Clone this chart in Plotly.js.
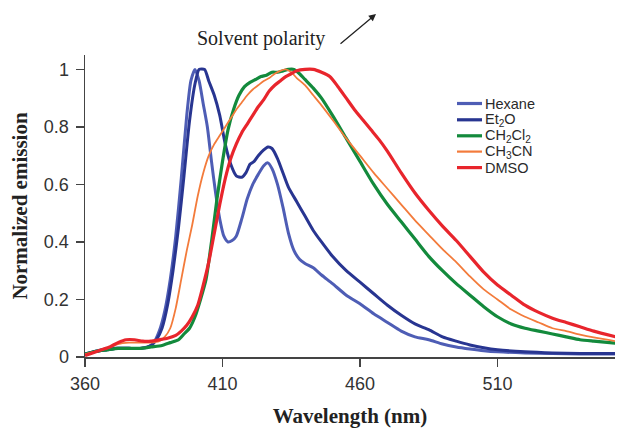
<!DOCTYPE html>
<html>
<head>
<meta charset="utf-8">
<script src="https://cdn.plot.ly/plotly-3.0.1.min.js"></script>
<style>html,body{margin:0;padding:0;background:#fff;}#chart{width:617px;height:428px;}</style>
</head>
<body>
<div id="chart"></div>
<script>
// ---- Data ----
const seriesNames = ["Hexane", "Et<sub>2</sub>O", "CH<sub>2</sub>Cl<sub>2</sub>", "CH<sub>3</sub>CN", "DMSO"];

const hexaneX = [360,364,368,372,376,380,383,385,387,389,391,393,395,397,398.5,400,401.5,403,404.5,406,407.5,409,410.5,412,413.5,415,417,419,421,423,425,426.5,428,430,432,434,436,438,440,443,446,450,455,460,465,470,475,480,485,490,495,500,505,510,520,530,540,553];
const hexaneY = [0.01,0.02,0.03,0.03,0.03,0.03,0.035,0.05,0.09,0.16,0.27,0.42,0.62,0.84,0.96,1.0,0.96,0.88,0.80,0.68,0.57,0.48,0.42,0.40,0.405,0.42,0.48,0.55,0.60,0.635,0.665,0.675,0.655,0.60,0.52,0.43,0.37,0.34,0.325,0.31,0.285,0.255,0.215,0.185,0.15,0.12,0.09,0.07,0.06,0.045,0.035,0.028,0.022,0.018,0.014,0.012,0.01,0.01];

const et2oX = [360,364,368,372,376,380,384,386,388,390,392,394,396,398,400,401.5,403.5,405,407,409,411,413,415,417,418.5,420,421.5,423,425,426.5,428,430,432,434,437,440,443,446,450,455,460,465,470,475,480,485,490,495,500,505,510,520,530,540,553];
const et2oY = [0.01,0.02,0.025,0.03,0.03,0.03,0.04,0.06,0.10,0.18,0.30,0.45,0.63,0.82,0.95,1.0,1.0,0.96,0.91,0.84,0.74,0.67,0.63,0.625,0.64,0.67,0.68,0.70,0.72,0.73,0.725,0.69,0.64,0.59,0.54,0.49,0.44,0.40,0.35,0.30,0.26,0.22,0.18,0.145,0.115,0.095,0.07,0.055,0.042,0.032,0.025,0.018,0.014,0.012,0.012];

const ch2cl2X = [360,364,368,372,376,380,384,388,391,394,396,398,400,402,404,406,408,410,412,414,416,418,420,422,424,426,428,430,432,434,436,438,440,443,446,450,455,460,465,470,475,480,485,490,495,500,505,510,515,520,525,530,535,540,545,553];
const ch2cl2Y = [0.01,0.02,0.025,0.03,0.03,0.03,0.035,0.04,0.05,0.06,0.08,0.10,0.14,0.20,0.27,0.40,0.55,0.68,0.79,0.86,0.91,0.94,0.955,0.965,0.975,0.98,0.99,0.99,0.995,1.0,1.0,0.985,0.965,0.935,0.90,0.84,0.76,0.68,0.60,0.53,0.47,0.41,0.35,0.30,0.255,0.215,0.175,0.14,0.115,0.10,0.09,0.08,0.07,0.06,0.055,0.048];

const ch3cnX = [360,364,368,372,376,380,384,387,389,391,393,395,397,399,401,403,405,407,409,411,413,415,417,419,421,423,425,427,429,431,433,435,437,440,443,446,450,455,460,465,470,475,480,485,490,495,500,505,510,515,520,525,530,535,540,545,553];
const ch3cnY = [0.01,0.02,0.03,0.045,0.05,0.05,0.05,0.055,0.07,0.10,0.17,0.27,0.37,0.46,0.56,0.64,0.70,0.74,0.77,0.80,0.83,0.86,0.885,0.91,0.93,0.945,0.96,0.97,0.985,0.995,1.0,0.99,0.97,0.945,0.91,0.875,0.825,0.76,0.70,0.64,0.585,0.53,0.475,0.425,0.375,0.33,0.28,0.235,0.20,0.165,0.14,0.12,0.10,0.09,0.078,0.068,0.055];

const dmsoX = [360,363,366,369,372,375,378,381,384,387,390,393,395,397,399,401,403,405,407,409,411,413,415,417,419,421,423,425,427,429,431,433,435,437,440,443,446,449,452,455,458,461,464,467,470,475,480,485,490,495,500,505,510,515,520,525,530,535,540,545,553];
const dmsoY = [0.005,0.015,0.025,0.035,0.05,0.06,0.06,0.055,0.055,0.06,0.065,0.075,0.09,0.11,0.14,0.18,0.25,0.33,0.43,0.53,0.62,0.69,0.74,0.78,0.81,0.84,0.87,0.895,0.925,0.945,0.96,0.975,0.985,0.995,1.0,1.0,0.99,0.975,0.94,0.90,0.86,0.825,0.79,0.755,0.715,0.64,0.57,0.51,0.455,0.405,0.35,0.295,0.25,0.215,0.18,0.155,0.135,0.12,0.105,0.09,0.07];

const xTickVals = [360, 410, 460, 510];
const yTickVals = [0, 0.2, 0.4, 0.6, 0.8, 1];
const yTickText = ["0", "0.2", "0.4", "0.6", "0.8", "1"];

// ---- Styling ----
const colors = ["#4e5db5", "#283591", "#138a3c", "#f37b3b", "#e8252c"];
const widths = [3, 3, 3.2, 1.8, 3.2];
const xs = [hexaneX, et2oX, ch2cl2X, ch3cnX, dmsoX];
const ys = [hexaneY, et2oY, ch2cl2Y, ch3cnY, dmsoY];

const traces = xs.map((x, i) => ({
  type: "scatter", mode: "lines", x: x, y: ys[i], name: seriesNames[i],
  line: {color: colors[i], width: widths[i], shape: "spline", smoothing: 0.6},
  showlegend: false
}));

const L = 85, R = 2, T = 55, B = 71, W = 617, H = 428;
const pw = W - L - R, ph = H - T - B;
const px = v => (v - L) / pw;
const py = v => (H - B - v) / ph;

// manual legend
const legendRows = [103.5, 119.8, 135.8, 151.6, 167.6];
const shapes = [];
const annotations = [];
legendRows.forEach((r, i) => {
  shapes.push({type: "line", xref: "paper", yref: "paper", x0: px(457), x1: px(482), y0: py(r), y1: py(r),
    line: {color: colors[i], width: i === 3 ? 2.2 : 3.2}});
  annotations.push({xref: "paper", yref: "paper", x: px(483), y: py(r), xanchor: "left", yanchor: "middle",
    text: seriesNames[i], showarrow: false, font: {family: "Liberation Sans, Arial, sans-serif", size: 14.5, color: "#2a2a2a"}});
});
annotations.push({xref: "paper", yref: "paper", x: px(261), y: py(39), xanchor: "center", yanchor: "middle",
  text: "Solvent polarity", showarrow: false, font: {family: "Liberation Serif, Times New Roman, serif", size: 20, color: "#222"}});
annotations.push({xref: "paper", yref: "paper", x: px(376), y: py(14), text: "", showarrow: true,
  ax: -37, ay: 31, arrowhead: 2, arrowsize: 1.1, arrowwidth: 1.3, arrowcolor: "#222"});

const axisFont = {family: "Liberation Sans, Arial, sans-serif", size: 18, color: "#333"};
const layout = {
  width: W, height: H,
  margin: {l: L, r: R, t: T, b: B, pad: 0},
  paper_bgcolor: "#fff", plot_bgcolor: "#fff",
  showlegend: false,
  xaxis: {
    range: [360, 360 + pw / 2.75], tickvals: xTickVals, ticks: "outside", ticklen: 8, tickwidth: 1.2, tickcolor: "#444",
    showline: true, linecolor: "#444", linewidth: 1.5, showgrid: false, zeroline: false,
    tickfont: axisFont, ticklabelstandoff: 2,
    title: {text: "Wavelength (nm)", font: {family: "Liberation Serif, Times New Roman, serif", size: 21, color: "#222", weight: "bold"}, standoff: 18}
  },
  yaxis: {
    range: [0, ph / 287.6], tickvals: yTickVals, ticktext: yTickText, ticks: "outside", ticklen: 8, tickwidth: 1.2, tickcolor: "#444",
    showline: true, linecolor: "#444", linewidth: 1.5, showgrid: false, zeroline: false,
    tickfont: axisFont, ticklabelstandoff: 3,
    title: {text: "Normalized emission", font: {family: "Liberation Serif, Times New Roman, serif", size: 21, color: "#222", weight: "bold"}, standoff: 10}
  },
  shapes: shapes,
  annotations: annotations
};

Plotly.newPlot("chart", traces, layout, {displayModeBar: false, staticPlot: true});
</script>
</body>
</html>
